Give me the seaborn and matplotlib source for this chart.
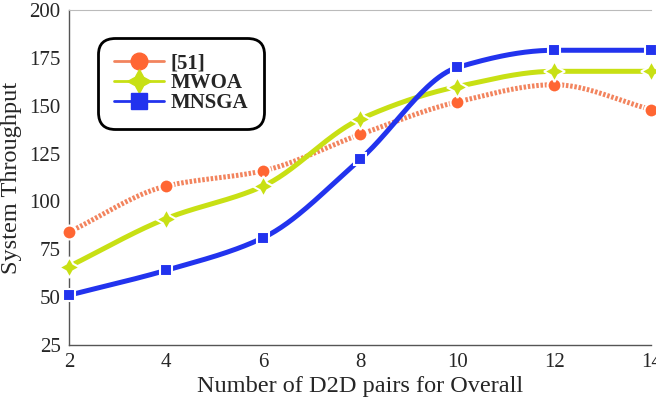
import numpy as np
import pandas as pd
import seaborn as sns
import matplotlib.pyplot as plt
from matplotlib.lines import Line2D

# values
pairs = [2, 4, 6, 8, 10, 12, 14]
ref51 = [84, 108, 116, 135, 152, 161, 148]
mwoa = [66, 91, 108, 143, 160, 168, 168]
mnsga = [51, 64, 81, 122, 170, 179, 179]


def pchip(x, y, xs):
    # monotone cubic curve through the points, only used to draw the smooth line
    x = np.asarray(x, float)
    y = np.asarray(y, float)
    h = np.diff(x)
    d = np.diff(y) / h
    m = np.zeros_like(y)
    for k in range(1, len(x) - 1):
        if d[k - 1] * d[k] > 0:
            w1 = 2 * h[k] + h[k - 1]
            w2 = h[k] + 2 * h[k - 1]
            m[k] = (w1 + w2) / (w1 / d[k - 1] + w2 / d[k])
    m[0] = d[0]
    m[-1] = d[-1]
    idx = np.clip(np.searchsorted(x, xs) - 1, 0, len(x) - 2)
    t = (xs - x[idx]) / h[idx]
    h00 = 2 * t**3 - 3 * t**2 + 1
    h10 = t**3 - 2 * t**2 + t
    h01 = -2 * t**3 + 3 * t**2
    h11 = t**3 - t**2
    return (h00 * y[idx] + h10 * h[idx] * m[idx]
            + h01 * y[idx + 1] + h11 * h[idx] * m[idx + 1])


sns.set_style("white")
plt.rcParams["font.family"] = ["Liberation Serif", "DejaVu Serif"]

fig, ax = plt.subplots(figsize=(6.56, 4.03), dpi=100)
fig.subplots_adjust(left=0.105, right=0.993, bottom=0.144, top=0.975)

xs = np.linspace(2, 14, 300)
series = [
    ("[51]", ref51, "#F2845E", "#FF6633", "o", 10, (0.5, 0.35)),
    ("MWOA", mwoa, "#C8E014", "#C8E014", (4, 1, 0), 15, None),
    ("MNSGA", mnsga, "#2233EE", "#2233EE", "s", 9, None),
]

handles = []
for name, vals, lc, mc, mk, ms, dash in series:
    curve = pd.DataFrame({"x": xs, "y": pchip(pairs, vals, xs)})
    sns.lineplot(data=curve, x="x", y="y", ax=ax, color=lc, lw=3.6,
                 dashes=False, legend=False)
    if dash is not None:
        ax.lines[-1].set_dashes(dash)
    pts = pd.DataFrame({"x": pairs, "y": vals})
    ax.plot(pts["x"], pts["y"], ls="none", marker=mk, ms=ms, color=mc,
            mec="white", mew=1.5, zorder=5, clip_on=False)
    handles.append(Line2D([], [], color=lc, lw=2, marker=mk, ms=ms + 2,
                          mfc=mc, mec=mc, label=name))

ax.set_xlim(2, 14)
ax.set_ylim(25, 200)
ax.set_xticks(pairs)
ax.set_yticks([25, 50, 75, 100, 125, 150, 175, 200])
ax.tick_params(direction="in", length=6, width=0.8, color="#555555",
               labelsize=15, pad=6)
ax.set_xlabel("Number of D2D pairs for Overall", fontsize=17.5, labelpad=3)
ax.set_ylabel("System Throughput", fontsize=17.5, labelpad=5)

for s in ["left", "bottom"]:
    ax.spines[s].set_color("#555555")
    ax.spines[s].set_linewidth(1)
ax.spines["top"].set_color("#BBBBBB")
ax.spines["right"].set_visible(False)

leg = ax.legend(handles=handles, loc="upper left", bbox_to_anchor=(0.058, 0.905),
                prop={"weight": "bold", "size": 15}, frameon=True, fancybox=True,
                handlelength=2.4, handletextpad=0.3, labelspacing=0.0,
                borderpad=0.55, borderaxespad=0)
leg.get_frame().set_edgecolor("black")
leg.get_frame().set_linewidth(2)
leg.get_frame().set_alpha(1)
leg.get_frame().set_boxstyle("round", pad=0.2, rounding_size=0.8)

fig.savefig("out.png", dpi=100)
